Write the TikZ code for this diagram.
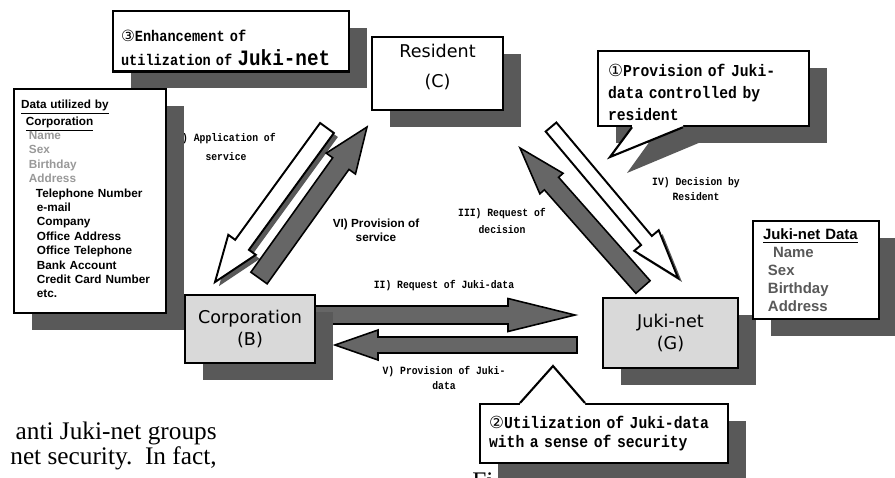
\documentclass[tikz,border=0pt]{standalone}
\usepackage{fontspec}
\setmainfont{Liberation Serif}
\newfontfamily\boxfont{DejaVu Sans}
\newfontfamily\listfont{Liberation Sans}
\newfontfamily\calloutfont[FakeStretch=0.88]{Liberation Mono}
\newfontfamily\circfont{DejaVu Sans}
\usetikzlibrary{calc,shadows}

\newcommand{\blockarrow}[6]{%
  \coordinate (neck) at ($(#3)!#6!(#2)$);
  \draw[#1] ($(#2)!#4!90:(#3)$) -- ($(neck)!#4!90:(#3)$) -- ($(neck)!#5!90:(#3)$) -- (#3)
    -- ($(neck)!#5!-90:(#3)$) -- ($(neck)!#4!-90:(#3)$) -- ($(#2)!#4!-90:(#3)$) -- cycle;
}

\begin{document}
\begin{tikzpicture}[x=0.02cm, y=-0.02cm,
		box shadow/.style={drop shadow={shadow xshift=0.36cm, shadow yshift=-0.34cm, fill=black!65, opacity=1}},
		main node/.style={draw, line width=1.2pt, align=center, box shadow, font=\boxfont\fontsize{10}{13}\selectfont},
		list node/.style={draw, line width=1.2pt, fill=white, anchor=north west, align=left, box shadow},
		callout node/.style={draw, line width=1.2pt, fill=white, anchor=north west, align=left, box shadow},
		arrow label/.style={align=center, font=\calloutfont\bfseries\fontsize{6.3}{9}\selectfont},
		dark arrow/.style={fill=black!60, draw=black, line width=0.9pt},
		light arrow/.style={fill=white, draw=black, line width=1.1pt,
			drop shadow={shadow xshift=0.08cm, shadow yshift=-0.08cm, fill=black!65, opacity=1}}]

	\useasboundingbox (0,0) rectangle (895,477);

	\node[arrow label, font=\calloutfont\bfseries\fontsize{6.3}{11.3}\selectfont] (lab1) at (226,147) {I) Application of\\service};
	\node[arrow label] (lab2) at (444,286) {II) Request of Juki-data};
	\node[arrow label, font=\calloutfont\bfseries\fontsize{6.3}{9.6}\selectfont] (lab3) at (502,221) {III) Request of\\decision};
	\node[arrow label, font=\calloutfont\bfseries\fontsize{6.3}{8.5}\selectfont] (lab4) at (696,189) {IV) Decision by\\Resident};
	\node[arrow label] (lab5) at (444,378) {V) Provision of Juki-\\data};
	\node[align=center, font=\listfont\bfseries\fontsize{6.7}{8}\selectfont] (lab6) at (376,230) {VI) Provision of\\service};

	\coordinate (appT) at (327,128);  \coordinate (appH) at (215,282);
	\coordinate (servT) at (259,278); \coordinate (servH) at (367,127);
	\coordinate (reqT) at (643,287);  \coordinate (reqH) at (520,148);
	\coordinate (decT) at (551,127);  \coordinate (decH) at (678,278);
	\coordinate (askT) at (310,315);  \coordinate (askH) at (575,315);
	\coordinate (giveT) at (577,345); \coordinate (giveH) at (335,345);

	\blockarrow{light arrow}{appT}{appH}{0.17cm}{0.34cm}{0.92cm}
	\blockarrow{dark arrow}{servT}{servH}{0.2cm}{0.36cm}{0.9cm}
	\blockarrow{dark arrow}{reqT}{reqH}{0.19cm}{0.31cm}{0.95cm}
	\blockarrow{light arrow}{decT}{decH}{0.14cm}{0.32cm}{0.98cm}
	\blockarrow{dark arrow}{askT}{askH}{0.18cm}{0.33cm}{1.34cm}
	\blockarrow{dark arrow}{giveT}{giveH}{0.16cm}{0.3cm}{0.86cm}

	\node[main node, fill=white, minimum width=2.62cm, minimum height=1.46cm,
		font=\boxfont\fontsize{10}{17}\selectfont] (res) at (437.5,73.5) {Resident\\(C)\\[-8pt]\mbox{}};
	\node[main node, fill=black!15, minimum width=2.6cm, minimum height=1.36cm] (corp) at (250,329) {Corporation\\(B)};
	\node[main node, fill=black!15, minimum width=2.7cm, minimum height=1.4cm] (juki) at (670.5,333) {Juki-net\\(G)};

	\node[list node, minimum width=3.04cm, minimum height=4.48cm, text width=2.76cm, inner xsep=0.13cm,
		font=\listfont\bfseries\fontsize{6.7}{8.2}\selectfont] (corpdata) at (13,88) {%
		\underline{Data utilized by}\\
		\hspace{2.8pt}\underline{Corporation}\\
		\hspace{4.5pt}{\color{black!40}Name}\\
		\hspace{4.5pt}{\color{black!40}Sex}\\
		\hspace{4.5pt}{\color{black!40}Birthday}\\
		\hspace{4.5pt}{\color{black!40}Address}\\
		\hspace{8.5pt}Telephone Number\\
		\hspace{9pt}e-mail\\
		\hspace{9pt}Company\\
		\hspace{9pt}Office Address\\
		\hspace{9pt}Office Telephone\\
		\hspace{9pt}Bank Account\\
		\hspace{9pt}Credit Card Number\\
		\hspace{9pt}etc.\\[-6pt]\mbox{}};
	\node[list node, minimum width=2.52cm, minimum height=1.96cm, text width=2.12cm, inner xsep=0.2cm,
		font=\listfont\bfseries\fontsize{8.5}{10.2}\selectfont] (jukidata) at (752,220) {%
		\underline{Juki-net Data}\\
		\hspace{5.7pt}{\color{black!65}Name}\\
		\hspace{2.8pt}{\color{black!65}Sex}\\
		\hspace{2.8pt}{\color{black!65}Birthday}\\
		\hspace{2.8pt}{\color{black!65}Address}};

	\node[callout node, minimum width=4.72cm, minimum height=1.16cm, text width=4.4cm, inner xsep=0.16cm,
		font=\calloutfont\bfseries\fontsize{8.8}{13.6}\selectfont] (enhance) at (112,10)
		{\rule{0pt}{14pt}{\circfont\mdseries ③}Enhancement of\\utilization of {\fontsize{12.5}{13.6}\selectfont Juki-net}};

	\node[callout node, minimum width=4.22cm, minimum height=1.46cm, text width=3.82cm, inner xsep=0.2cm,
		font=\calloutfont\bfseries\fontsize{9.5}{12.5}\selectfont] (control) at (597,50)
		{\rule{0pt}{11pt}{\circfont\mdseries ①}Provision of Juki-\\data controlled by\\resident};
	\coordinate (ctrlL) at ($(control.south west)+(35,0)$);
	\coordinate (ctrlR) at ($(control.south west)+(86,0)$);
	\coordinate (ctrlTip) at (610,157);
	\fill[black!65] ($(ctrlL)+(22.2,8)$) -- ($(ctrlTip)+(17,16)$) -- ($(ctrlR)+(34.2,8)$) -- cycle;
	\fill[white] (ctrlL) -- (ctrlTip) -- (ctrlR) -- ($(ctrlR)+(0,-3)$) -- ($(ctrlL)+(0,-3)$) -- cycle;
	\draw[line width=1.2pt] (ctrlL) -- (ctrlTip) -- (ctrlR);

	\node[callout node, minimum width=4.96cm, minimum height=1.18cm, text width=4.6cm, inner xsep=0.18cm,
		font=\calloutfont\bfseries\fontsize{9.5}{11.3}\selectfont] (secure) at (479,403)
		{{\circfont\mdseries ②}Utilization of Juki-data\\with a sense of security};
	\coordinate (secL) at ($(secure.north west)+(41,0)$);
	\coordinate (secR) at ($(secure.north west)+(106,0)$);
	\coordinate (secTip) at (553,366);
	\fill[white] (secL) -- (secTip) -- (secR) -- ($(secR)+(0,3)$) -- ($(secL)+(0,3)$) -- cycle;
	\draw[line width=1.2pt] (secL) -- (secTip) -- (secR);

	\node[anchor=base east, inner sep=0, font=\fontsize{14.4}{14}\selectfont] (para1) at (217,439) {anti Juki-net groups};
	\node[anchor=base east, inner sep=0, font=\fontsize{14.4}{14}\selectfont] (para2) at (217,464) {net security.\ \ In fact,};
	\node[anchor=base west, inner sep=0, font=\fontsize{14.4}{14}\selectfont] (para3) at (472,489) {Fi};
\end{tikzpicture}
\end{document}
